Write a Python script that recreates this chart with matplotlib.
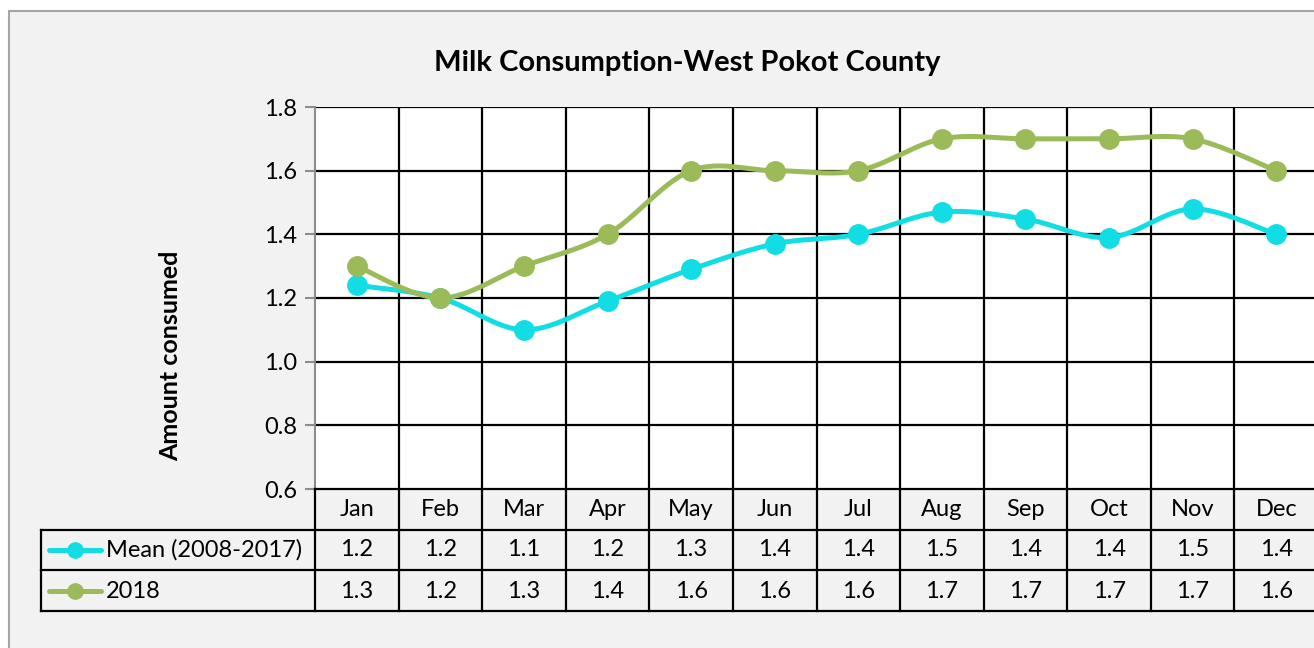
import numpy as np
import matplotlib
matplotlib.use("Agg")
import matplotlib.pyplot as plt
from matplotlib.patches import Rectangle
from matplotlib.lines import Line2D
from matplotlib.transforms import blended_transform_factory

plt.rcParams['font.family'] = ['Lato', 'DejaVu Sans']

months = ["Jan", "Feb", "Mar", "Apr", "May", "Jun",
          "Jul", "Aug", "Sep", "Oct", "Nov", "Dec"]
mean_label = "Mean (2008-2017)"
mean_vals = [1.24, 1.20, 1.10, 1.19, 1.29, 1.37, 1.40, 1.47, 1.448, 1.39, 1.48, 1.40]
y2018_label = "2018"
y2018_vals = [1.3, 1.2, 1.3, 1.4, 1.6, 1.6, 1.6, 1.7, 1.7, 1.7, 1.7, 1.6]
y_ticks = [0.6, 0.8, 1.0, 1.2, 1.4, 1.6, 1.8]

title = "Milk Consumption-West Pokot County"
ylabel = "Amount consumed"

c_mean = "#12dde4"
c_2018 = "#9bbb59"

W, H = 1314, 648
FS = 17


def smooth(ys, n=30):
    # bezier segments with catmull-rom style control points (like spreadsheet smoothed lines)
    x = np.arange(len(ys), dtype=float)
    y = np.asarray(ys, dtype=float)
    pts = np.column_stack([x, y])
    out = []
    for i in range(len(pts) - 1):
        p0 = pts[max(i - 1, 0)]
        p1 = pts[i]
        p2 = pts[i + 1]
        p3 = pts[min(i + 2, len(pts) - 1)]
        c1 = p1 + (p2 - p0) / 6
        c2 = p2 - (p3 - p1) / 6
        t = np.linspace(0, 1, n)[:, None]
        seg = ((1 - t) ** 3) * p1 + 3 * ((1 - t) ** 2) * t * c1 + 3 * (1 - t) * t ** 2 * c2 + t ** 3 * p2
        out.append(seg if i == 0 else seg[1:])
    out = np.vstack(out)
    return out[:, 0], out[:, 1]


def fx(px):
    return px / W


def fy(py):
    return 1 - py / H


fig = plt.figure(figsize=(W / 100, H / 100), dpi=100)
fig.patch.set_facecolor("white")

# chart area background with border
fig.patches.append(Rectangle((fx(9), fy(660)), fx(1320), fy(11) - fy(660),
                             transform=fig.transFigure, facecolor="#f2f2f2",
                             edgecolor="#a6a6a6", lw=1.5, zorder=-5))

left, right, top, bottom = 315, 1318, 107, 489
ax = fig.add_axes([fx(left), fy(bottom), fx(right - left), fy(top) - fy(bottom)])
ax.set_zorder(1)
ax.set_facecolor("white")
ax.set_xlim(-0.5, len(months) - 0.5)
ax.set_ylim(0.6, 1.8)
ax.set_yticks(y_ticks)
ax.set_yticklabels([f"{v:.1f}" for v in y_ticks], fontsize=FS)
ax.set_xticks([])
ax.tick_params(axis="y", length=7, width=1.5, color="#8c8c8c", pad=6)
ax.grid(False)
for v in y_ticks[1:]:
    ax.axhline(v, color="black", lw=1.6, zorder=1)
for i in range(1, len(months)):
    ax.axvline(i - 0.5, color="black", lw=1.6, zorder=1)
for s in ["top", "right", "bottom"]:
    ax.spines[s].set_visible(False)
ax.spines["left"].set_color("#8c8c8c")
ax.spines["left"].set_linewidth(1.5)

for vals, col in [(mean_vals, c_mean), (y2018_vals, c_2018)]:
    sx, sy = smooth(vals)
    ax.plot(sx, sy, color=col, lw=3.6, solid_capstyle="round", zorder=3)
    ax.plot(np.arange(len(vals)), vals, "o", color=col, ms=14, zorder=4)

# data table under the plot
tr = blended_transform_factory(ax.transData, fig.transFigure)
row_y = [489, 530, 570, 611]
for i in range(len(months) + 1):
    fig.add_artist(Line2D([i - 0.5, i - 0.5], [fy(489), fy(611)], transform=tr,
                          color="black", lw=1.6))
fig.add_artist(Line2D([fx(left), fx(W + 10)], [fy(489), fy(489)],
                      transform=fig.transFigure, color="black", lw=1.6))
for py in row_y[1:]:
    fig.add_artist(Line2D([fx(41), fx(W + 10)], [fy(py), fy(py)],
                          transform=fig.transFigure, color="black", lw=1.6))
fig.add_artist(Line2D([fx(41), fx(41)], [fy(530), fy(611)],
                      transform=fig.transFigure, color="black", lw=1.6))

for i, m in enumerate(months):
    fig.text(i, fy(510), m, transform=tr, ha="center", va="center", fontsize=FS)
    fig.text(i, fy(550), f"{mean_vals[i]:.1f}", transform=tr, ha="center", va="center", fontsize=FS)
    fig.text(i, fy(591), f"{y2018_vals[i]:.1f}", transform=tr, ha="center", va="center", fontsize=FS)

for py, lab, col in [(550, mean_label, c_mean), (591, y2018_label, c_2018)]:
    fig.add_artist(Line2D([fx(49), fx(101)], [fy(py), fy(py)], transform=fig.transFigure,
                          color=col, lw=3.6, solid_capstyle="round"))
    fig.add_artist(Line2D([fx(75)], [fy(py)], transform=fig.transFigure,
                          marker="o", ms=11, color=col, lw=0))
    fig.text(fx(106), fy(py), lab, ha="left", va="center", fontsize=FS)

fig.text(fx(687), fy(63), title, ha="center", va="center", fontsize=21, fontweight="bold")
fig.text(fx(171), fy(356), ylabel, ha="center", va="center", rotation=90,
         fontsize=18, fontweight="bold")

fig.savefig("out.png", dpi=100, facecolor=fig.get_facecolor())
